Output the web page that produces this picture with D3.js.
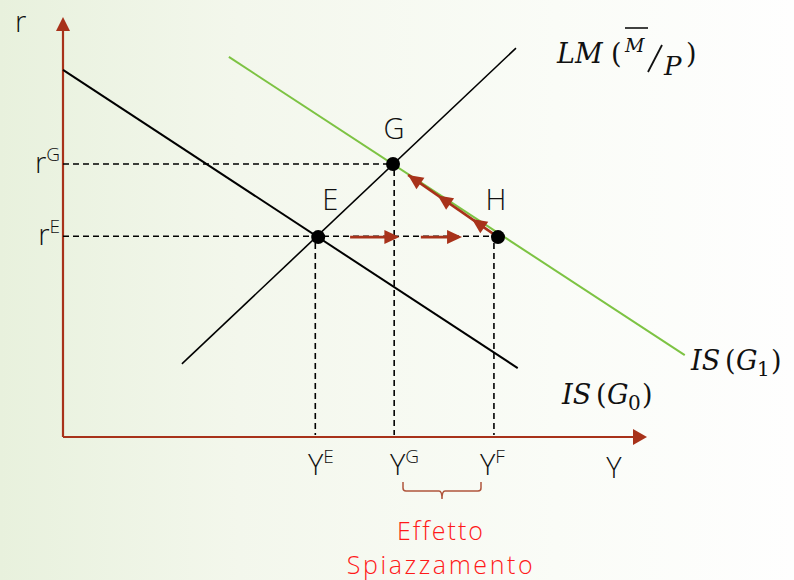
<!DOCTYPE html>
<html><head><meta charset="utf-8">
<script src="https://cdn.jsdelivr.net/npm/d3@7"></script>
<style>html,body{margin:0;padding:0;}svg{display:block;}</style>
</head><body>
<script>
// ---- data (model units) ----
const isG0 = [[0, 87.4], [78.4, 16.4]];
const lmCurve = [[20.5, 17.4], [78.1, 92.6]];
const isG1 = [[28.6, 90.5], [107.2, 19.5]];
const pointNames = ["E", "G", "H"];
const pointX = [44.0, 56.9, 75.0];
const pointY = [47.6, 65.0, 47.6];
const dropX = [43.5, 57.1, 74.3];
const yTickLabels = ["E", "G", "F"];
const rTickLabels = ["G", "E"];
const rTickValues = [65.0, 47.8];
const moveArrows = [[49.5, 58.0], [61.7, 68.8]]; // horizontal red arrows (x from, x to)
const crowdPath = [[75.0, 47.6], [59.5, 62.4]];   // from H back to G along IS(G1)
const crowdHeads = [0.0, 0.33, 0.71];

const W = 794, H = 580;
const x = d3.scaleLinear().domain([0, 100]).range([63, 643]);
const y = d3.scaleLinear().domain([0, 100]).range([437, 17]);

const svg = d3.select("body").append("svg").attr("width", W).attr("height", H);
const defs = svg.append("defs");
const bg = defs.append("linearGradient").attr("id", "bg").attr("x1", 0).attr("x2", 1).attr("y1", 0).attr("y2", 0);
bg.append("stop").attr("offset", "0").attr("stop-color", "#e8f1dd");
bg.append("stop").attr("offset", "0.3").attr("stop-color", "#f3f7ec");
bg.append("stop").attr("offset", "0.7").attr("stop-color", "#fafcf7");
bg.append("stop").attr("offset", "1").attr("stop-color", "#fefefe");
svg.append("rect").attr("width", W).attr("height", H).attr("fill", "url(#bg)");

const axisCol = "#a8321a", red = "#a8321a";
const line = d3.line().x(d => x(d[0])).y(d => y(d[1]));

// axes
svg.append("line").attr("x1", x(0)).attr("x2", x(0)).attr("y1", y(0)).attr("y2", 28)
  .attr("stroke", axisCol).attr("stroke-width", 2.2);
svg.append("path").attr("d", `M${x(0)},17 L${x(0)-7},31 L${x(0)+7},31 Z`).attr("fill", axisCol);
svg.append("line").attr("x1", x(0)).attr("x2", 636).attr("y1", y(0)).attr("y2", y(0))
  .attr("stroke", axisCol).attr("stroke-width", 2.2);
svg.append("path").attr("d", `M647,${y(0)} L633,${y(0)-8} L633,${y(0)+8} Z`).attr("fill", axisCol);

// dashed guides
const dash = "6,4";
rTickValues.forEach((v, i) => {
  const xe = i === 0 ? pointX[1] : pointX[2];
  svg.append("line").attr("x1", x(0)).attr("x2", x(xe)).attr("y1", y(v)).attr("y2", y(v))
    .attr("stroke", "#000").attr("stroke-width", 1.6).attr("stroke-dasharray", dash);
});
dropX.forEach((v, i) => {
  svg.append("line").attr("x1", x(v)).attr("x2", x(v)).attr("y1", y(pointY[i]) + 6).attr("y2", y(0) - 2)
    .attr("stroke", "#000").attr("stroke-width", 1.6).attr("stroke-dasharray", dash);
});

// curves
svg.append("path").attr("d", line(isG0)).attr("stroke", "#000").attr("stroke-width", 2).attr("fill", "none");
svg.append("path").attr("d", line(lmCurve)).attr("stroke", "#000").attr("stroke-width", 1.6).attr("fill", "none");
svg.append("path").attr("d", line(isG1)).attr("stroke", "#7dc343").attr("stroke-width", 2).attr("fill", "none");

// red arrows
function head(tx, ty, ang, len, half) {
  const c = Math.cos(ang), s = Math.sin(ang);
  const bx = tx - c * len, by = ty - s * len;
  return `M${tx},${ty} L${bx - s * half},${by + c * half} L${bx + s * half},${by - c * half} Z`;
}
moveArrows.forEach(a => {
  const yy = y(pointY[0]);
  svg.append("line").attr("x1", x(a[0])).attr("x2", x(a[1]) - 10).attr("y1", yy).attr("y2", yy)
    .attr("stroke", red).attr("stroke-width", 2.6);
  svg.append("path").attr("d", head(x(a[1]), yy, 0, 15, 7)).attr("fill", red);
});
const p0 = [x(crowdPath[0][0]), y(crowdPath[0][1])], p1 = [x(crowdPath[1][0]), y(crowdPath[1][1])];
svg.append("line").attr("x1", p0[0]).attr("y1", p0[1]).attr("x2", p1[0]).attr("y2", p1[1])
  .attr("stroke", red).attr("stroke-width", 2.6);
const ang = Math.atan2(p1[1] - p0[1], p1[0] - p0[0]);
crowdHeads.forEach(t => {
  const tx = p1[0] + (p0[0] - p1[0]) * t, ty = p1[1] + (p0[1] - p1[1]) * t;
  svg.append("path").attr("d", head(tx, ty, ang, 15, 7)).attr("fill", red);
});

// points
pointNames.forEach((n, i) => {
  svg.append("circle").attr("cx", x(pointX[i])).attr("cy", y(pointY[i])).attr("r", 7).attr("fill", "#000");
});

// text
const sans = "'Open Sans', Lato, sans-serif";
const serif = "'DejaVu Serif', serif";
const ptLab = [[x(pointX[0]) + 12, y(pointY[0]) - 27], [x(pointX[1]) + 1, y(pointY[1]) - 25], [x(pointX[2]) - 2, y(pointY[2]) - 27]];
pointNames.forEach((n, i) => {
  svg.append("text").attr("x", ptLab[i][0]).attr("y", ptLab[i][1]).attr("text-anchor", "middle")
    .attr("font-family", sans).attr("font-weight", 300).attr("font-size", 29).attr("fill", "#111").text(n);
});
svg.append("text").attr("x", 15).attr("y", 32).attr("font-family", sans).attr("font-weight", 300).attr("font-size", 29).attr("fill", "#111").text("r");
rTickValues.forEach((v, i) => {
  const t = svg.append("text").attr("x", 60).attr("y", y(v) + 9).attr("text-anchor", "end")
    .attr("font-family", sans).attr("font-weight", 300).attr("font-size", 29).attr("fill", "#111");
  t.append("tspan").text("r");
  t.append("tspan").attr("font-size", 19).attr("dy", -12).text(rTickLabels[i]);
});
const yLabX = [308, 390, 480];
dropX.forEach((v, i) => {
  const t = svg.append("text").attr("x", yLabX[i]).attr("y", 475)
    .attr("font-family", sans).attr("font-weight", 300).attr("font-size", 29).attr("fill", "#111");
  t.append("tspan").text("Y");
  t.append("tspan").attr("font-size", 19).attr("dy", -12).text(yTickLabels[i]);
});
svg.append("text").attr("x", 614).attr("y", 478).attr("text-anchor", "middle")
  .attr("font-family", sans).attr("font-weight", 300).attr("font-size", 29).attr("fill", "#111").text("Y");

// brace
const bx0 = 403, bx1 = 481, bm = (bx0 + bx1) / 2, by0 = 482, by1 = 491;
svg.append("path").attr("d",
  `M${bx0},${by0} L${bx0},${by1-3} Q${bx0},${by1} ${bx0+3},${by1} L${bm-3},${by1} Q${bm},${by1} ${bm},${by1+8} Q${bm},${by1} ${bm+3},${by1} L${bx1-3},${by1} Q${bx1},${by1} ${bx1},${by1-3} L${bx1},${by0}`)
  .attr("fill", "none").attr("stroke", "#b0553c").attr("stroke-width", 1.5);
svg.append("text").attr("x", 441).attr("y", 540).attr("text-anchor", "middle")
  .attr("font-family", sans).attr("font-weight", 300).attr("font-size", 25).attr("letter-spacing", 2)
  .attr("fill", "#ff1a1a").text("Effetto");
svg.append("text").attr("x", 441).attr("y", 574).attr("text-anchor", "middle")
  .attr("font-family", sans).attr("font-weight", 300).attr("font-size", 25).attr("letter-spacing", 2.6)
  .attr("fill", "#ff1a1a").text("Spiazzamento");

// math labels
function mt(xx, yy, s, opts) {
  opts = opts || {};
  return svg.append("text").attr("x", xx).attr("y", yy).attr("font-family", serif)
    .attr("font-size", opts.fs || 27).attr("font-style", opts.i ? "italic" : "normal")
    .attr("fill", "#111").text(s);
}
mt(557, 63, "LM", {i: 1});
mt(611, 63, "(");
mt(625, 52, "M", {i: 1, fs: 19});
svg.append("line").attr("x1", 625).attr("x2", 648).attr("y1", 28).attr("y2", 28).attr("stroke", "#111").attr("stroke-width", 1.6);
svg.append("line").attr("x1", 662).attr("x2", 648).attr("y1", 45).attr("y2", 72).attr("stroke", "#111").attr("stroke-width", 1.8);
mt(664, 75, "P", {i: 1, fs: 26});
mt(686, 63, ")");
function isLab(xx, yy, sub) {
  mt(xx, yy, "IS", {i: 1});
  mt(xx + 34, yy, "(");
  mt(xx + 45, yy, "G", {i: 1});
  mt(xx + 66, yy + 6, sub, {fs: 20});
  mt(xx + 80, yy, ")");
}
isLab(691, 370, "1");
isLab(562, 404, "0");
</script>
</body></html>
